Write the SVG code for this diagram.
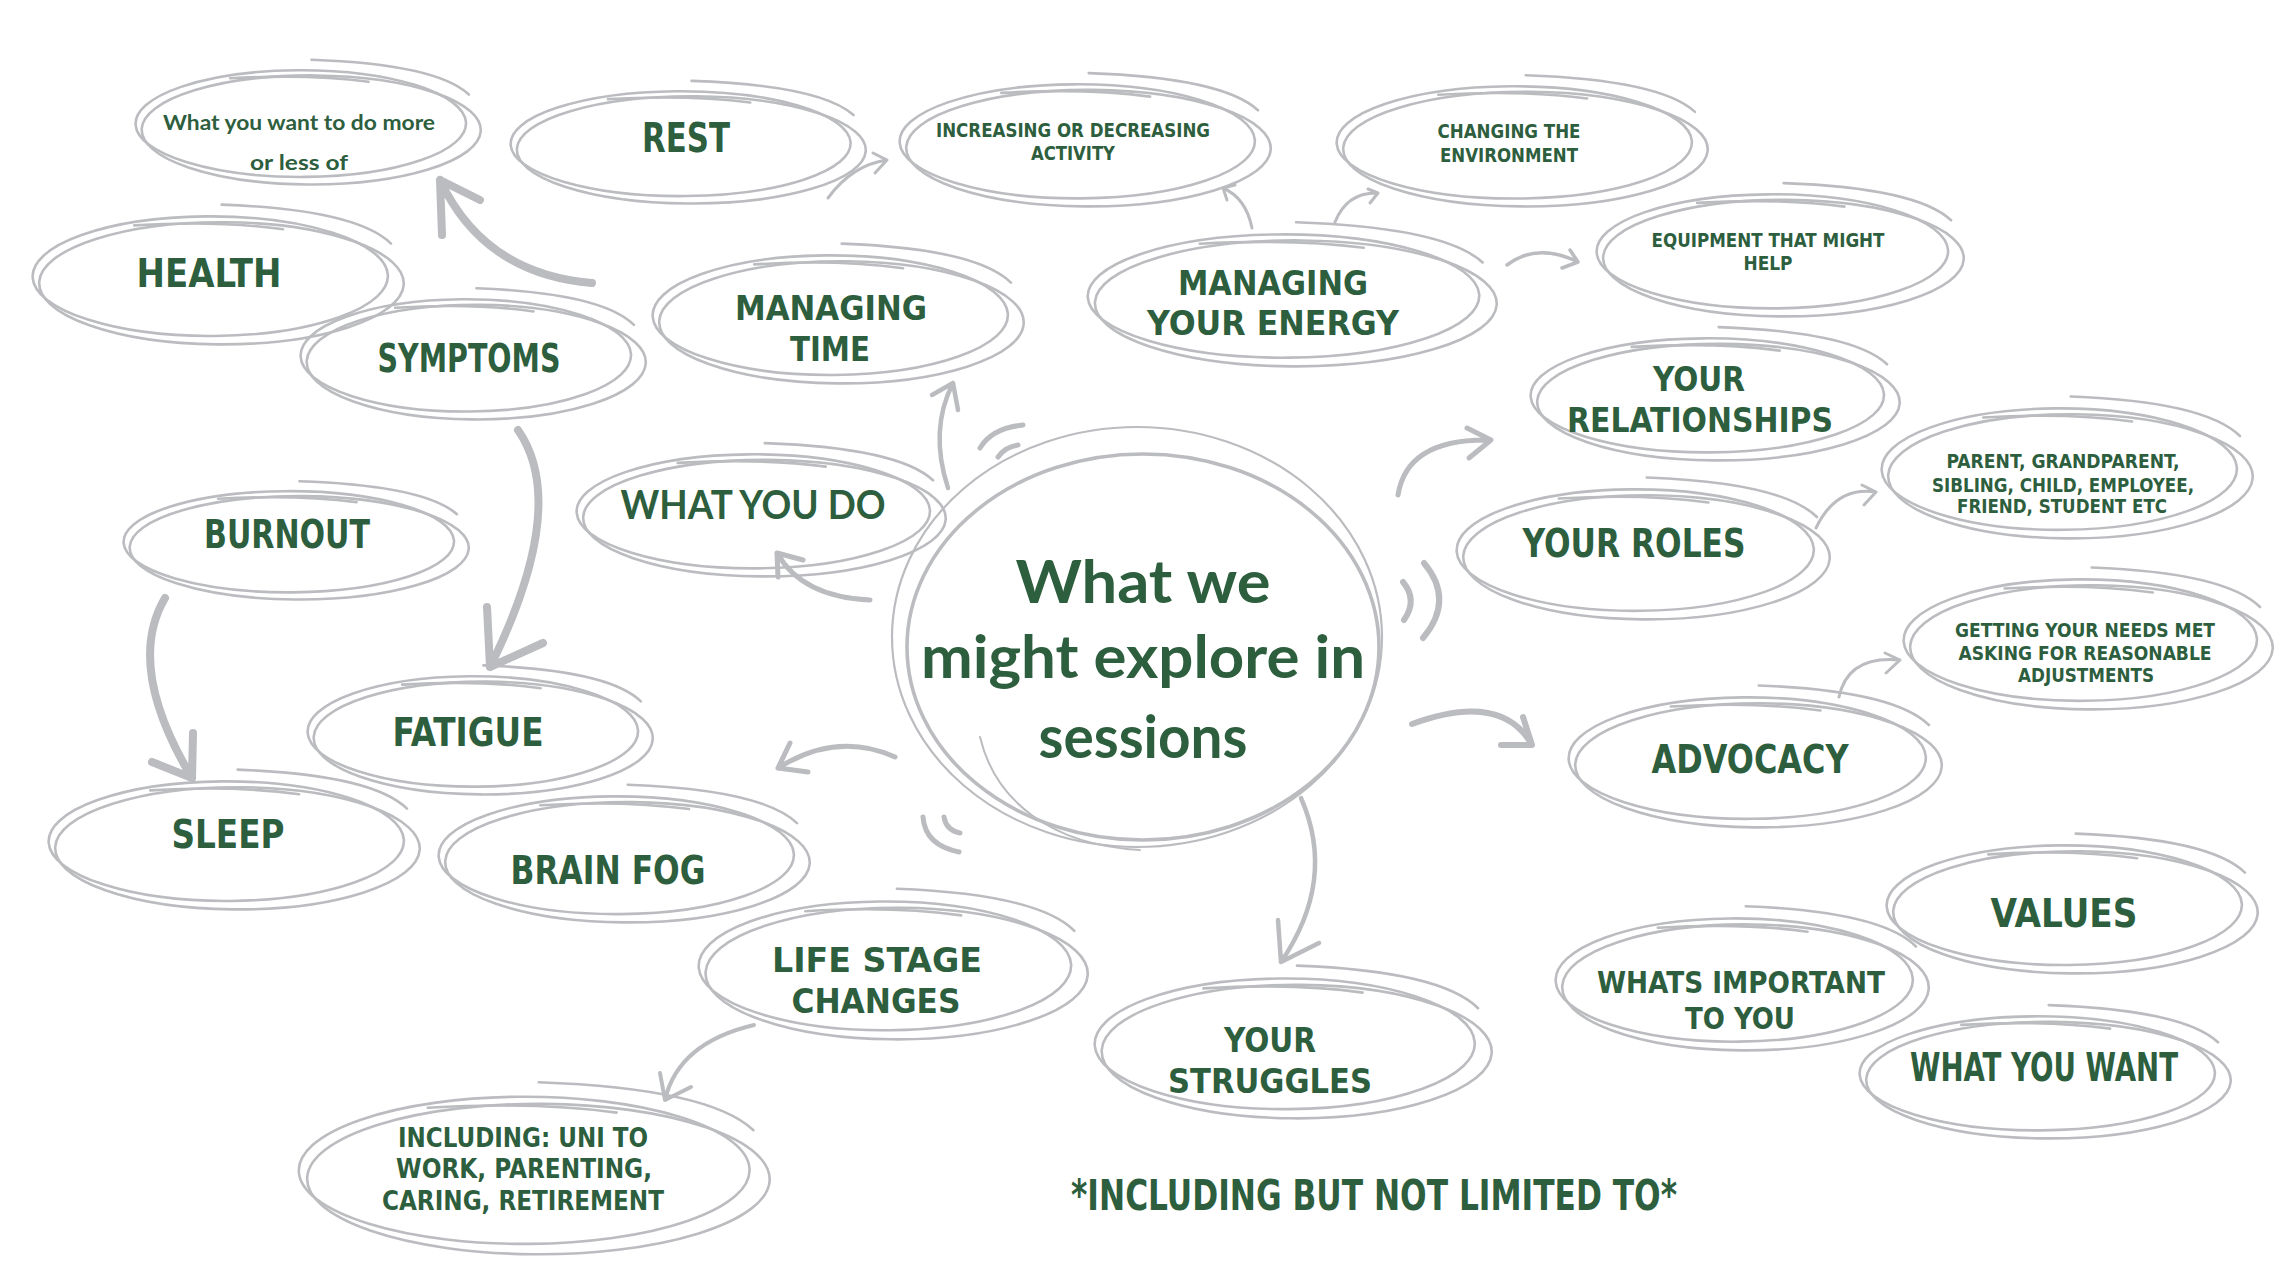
<svg xmlns="http://www.w3.org/2000/svg" xmlns:xlink="http://www.w3.org/1999/xlink" width="2274" height="1282" viewBox="0 0 2274 1282">
<style>
.lp ellipse, .lp path { fill:none; stroke:#bbbcbf; stroke-width:2.6; stroke-linecap:round; vector-effect:non-scaling-stroke; }
.t { font-family:"DejaVu Sans Condensed","DejaVu Sans","Liberation Sans",sans-serif; font-weight:bold; fill:#2d5e3d; text-anchor:middle; }
.r { font-family:Lato,"Noto Sans",sans-serif; font-weight:bold; fill:#2d5e3d; text-anchor:middle; }
.big { font-size:39px; }
.two { font-size:34px; }
.sm { font-size:20px; }
.c path { fill:none; stroke:#bbbcbf; stroke-linecap:round; stroke-linejoin:round; }
.ring { fill:none; stroke:#bbbcbf; stroke-linecap:round; }
</style>
<defs>
<g id="loop" class="lp">
<ellipse cx="-0.04" cy="-0.06" rx="0.955" ry="0.92" transform="rotate(-1.5)"/>
<ellipse cx="0.02" cy="0.05" rx="0.98" ry="0.94" transform="rotate(1.5)"/>
<path d="M0.02,-1.16 C0.4,-1.12 0.78,-0.98 0.93,-0.56"/>
<path d="M-0.45,-0.84 C-0.1,-0.9 0.15,-0.86 0.35,-0.78"/>
</g>
</defs>
<rect width="2274" height="1282" fill="#ffffff"/>

<g id="connectors" class="c">
<path stroke-width="8" d="M592,283 Q484,274 440,180 M480,200 L440,180 L442,235"/>
<path stroke-width="8" d="M518,430 Q570,505 490,667 M487,607 L490,667 L543,643"/>
<path stroke-width="8" d="M165,598 Q125,666 192,778 M193,733 L192,778 L152,762"/>
<path stroke-width="5" d="M870,600 Q802,597 777,553 M803,560 L777,553 L778,577"/>
<path stroke-width="4.5" d="M948,488 Q929,430 953,383 M932,395 L953,383 L958,410"/>
<path stroke-width="5" d="M895,757 Q837,731 778,768 M790,743 L778,768 L808,772"/>
<path stroke-width="3" d="M1252,228 Q1246,198 1223,188 M1235,185 L1223,188 L1227,200"/>
<path stroke-width="3" d="M828,198 Q852,165 887,160 M873,153 L887,160 L875,173"/>
<path stroke-width="3" d="M1335,222 Q1347,192 1378,193 M1368,189 L1378,193 L1370,203"/>
<path stroke-width="3.5" d="M1507,265 Q1537,242 1578,262 M1570,250 L1578,262 L1562,268"/>
<path stroke-width="5" d="M1398,495 Q1407,438 1491,440 M1467,428 L1491,440 L1469,458"/>
<path stroke-width="3" d="M1816,528 Q1836,486 1876,492 M1862,485 L1876,492 L1864,505"/>
<path stroke-width="3" d="M1839,697 Q1848,655 1900,660 M1885,653 L1900,660 L1886,673"/>
<path stroke-width="6" d="M1412,724 Q1502,691 1532,745 M1523,717 L1532,745 L1501,745"/>
<path stroke-width="4.5" d="M1301,798 Q1337,880 1281,962 M1278,920 L1281,962 L1319,943"/>
<path stroke-width="4" d="M754,1025 Q678,1043 665,1100 M660,1073 L665,1100 L691,1087"/>
</g>

<g id="n-center">
<ellipse class="ring" cx="1137" cy="637" rx="245" ry="210" stroke-width="2.2"/>
<ellipse class="ring" cx="1143" cy="647" rx="236" ry="193" stroke-width="3.6"/>
<path class="ring" stroke-width="2" d="M980,737 C995,800 1050,845 1140,850"/>
<path class="ring" stroke-width="5" d="M980,448 Q992,428 1023,425 M998,457 Q1005,447 1018,445"/>
<path class="ring" stroke-width="6" d="M1403,582 Q1418,600 1404,620 M1424,563 Q1455,600 1423,638"/>
<path class="ring" stroke-width="5" d="M923,817 Q925,845 959,852 M944,817 Q946,830 960,833"/>
<text class="r" font-size="60" font-weight="900" x="1143" y="603" textLength="255" lengthAdjust="spacingAndGlyphs">What we</text>
<text class="r" font-size="60" font-weight="900" x="1143" y="678" textLength="444" lengthAdjust="spacingAndGlyphs">might explore in</text>
<text class="r" font-size="60" font-weight="900" x="1143" y="758" textLength="209" lengthAdjust="spacingAndGlyphs">sessions</text>
</g>

<g id="n-want">
<use href="#loop" transform="translate(308,127) scale(173,58)"/>
<text class="r" font-size="21" font-weight="900" x="299" y="130" textLength="272" lengthAdjust="spacingAndGlyphs">What you want to do more</text>
<text class="r" font-size="21" font-weight="900" x="299" y="170" textLength="98" lengthAdjust="spacingAndGlyphs">or less of</text>
</g>

<g id="n-rest">
<use href="#loop" transform="translate(688,147) scale(178,57)"/>
<text class="t" font-size="41" x="686" y="152" textLength="88" lengthAdjust="spacingAndGlyphs">REST</text>
</g>

<g id="n-activity">
<use href="#loop" transform="translate(1085,145) scale(186,62)"/>
<text class="t sm" x="1073" y="137" textLength="274" lengthAdjust="spacingAndGlyphs">INCREASING OR DECREASING</text>
<text class="t sm" x="1073" y="160" textLength="84" lengthAdjust="spacingAndGlyphs">ACTIVITY</text>
</g>

<g id="n-environment">
<use href="#loop" transform="translate(1522,146) scale(186,61)"/>
<text class="t sm" x="1509" y="138" textLength="143" lengthAdjust="spacingAndGlyphs">CHANGING THE</text>
<text class="t sm" x="1509" y="162" textLength="138" lengthAdjust="spacingAndGlyphs">ENVIRONMENT</text>
</g>

<g id="n-equipment">
<use href="#loop" transform="translate(1780,255) scale(184,62)"/>
<text class="t sm" x="1768" y="247" textLength="233" lengthAdjust="spacingAndGlyphs">EQUIPMENT THAT MIGHT</text>
<text class="t sm" x="1768" y="270" textLength="49" lengthAdjust="spacingAndGlyphs">HELP</text>
</g>

<g id="n-health">
<use href="#loop" transform="translate(218,280) scale(186,65)"/>
<text class="t big" x="209" y="287" textLength="145" lengthAdjust="spacingAndGlyphs">HEALTH</text>
</g>

<g id="n-symptoms">
<use href="#loop" transform="translate(473,359) scale(173,61)"/>
<text class="t big" x="469" y="372" textLength="183" lengthAdjust="spacingAndGlyphs">SYMPTOMS</text>
</g>

<g id="n-time">
<use href="#loop" transform="translate(838,319) scale(186,65)"/>
<text class="t two" x="831" y="320" textLength="192" lengthAdjust="spacingAndGlyphs">MANAGING</text>
<text class="t two" x="830" y="361" textLength="80" lengthAdjust="spacingAndGlyphs">TIME</text>
</g>

<g id="n-energy">
<use href="#loop" transform="translate(1292,300) scale(205,67)"/>
<text class="t two" x="1273" y="295" textLength="190" lengthAdjust="spacingAndGlyphs">MANAGING</text>
<text class="t two" x="1273" y="335" textLength="252" lengthAdjust="spacingAndGlyphs">YOUR ENERGY</text>
</g>

<g id="n-relationships">
<use href="#loop" transform="translate(1715,399) scale(185,62)"/>
<text class="t two" x="1699" y="391" textLength="92" lengthAdjust="spacingAndGlyphs">YOUR</text>
<text class="t two" x="1700" y="432" textLength="266" lengthAdjust="spacingAndGlyphs">RELATIONSHIPS</text>
</g>

<g id="n-parent">
<use href="#loop" transform="translate(2067,473) scale(186,66)"/>
<text class="t sm" x="2063" y="468" textLength="233" lengthAdjust="spacingAndGlyphs">PARENT, GRANDPARENT,</text>
<text class="t sm" x="2063" y="492" textLength="262" lengthAdjust="spacingAndGlyphs">SIBLING, CHILD, EMPLOYEE,</text>
<text class="t sm" x="2062" y="513" textLength="210" lengthAdjust="spacingAndGlyphs">FRIEND, STUDENT ETC</text>
</g>

<g id="n-whatyoudo">
<use href="#loop" transform="translate(761,515) scale(185,62)"/>
<text class="r" font-size="41" font-weight="900" x="753" y="519" textLength="265" lengthAdjust="spacingAndGlyphs">WHAT YOU DO</text>
</g>

<g id="n-roles">
<use href="#loop" transform="translate(1643,554) scale(187,66)"/>
<text class="t big" x="1634" y="557" textLength="223" lengthAdjust="spacingAndGlyphs">YOUR ROLES</text>
</g>

<g id="n-needs">
<use href="#loop" transform="translate(2088,644) scale(185,66)"/>
<text class="t sm" x="2085" y="637" textLength="260" lengthAdjust="spacingAndGlyphs">GETTING YOUR NEEDS MET</text>
<text class="t sm" x="2085" y="660" textLength="253" lengthAdjust="spacingAndGlyphs">ASKING FOR REASONABLE</text>
<text class="t sm" x="2086" y="682" textLength="136" lengthAdjust="spacingAndGlyphs">ADJUSTMENTS</text>
</g>

<g id="n-burnout">
<use href="#loop" transform="translate(296,545) scale(173,55)"/>
<text class="t big" x="287" y="548" textLength="166" lengthAdjust="spacingAndGlyphs">BURNOUT</text>
</g>

<g id="n-fatigue">
<use href="#loop" transform="translate(480,735) scale(173,60)"/>
<text class="t big" x="468" y="746" textLength="151" lengthAdjust="spacingAndGlyphs">FATIGUE</text>
</g>

<g id="n-advocacy">
<use href="#loop" transform="translate(1755,762) scale(187,66)"/>
<text class="t big" x="1750" y="773" textLength="197" lengthAdjust="spacingAndGlyphs">ADVOCACY</text>
</g>

<g id="n-sleep">
<use href="#loop" transform="translate(234,845) scale(186,65)"/>
<text class="t big" x="228" y="848" textLength="113" lengthAdjust="spacingAndGlyphs">SLEEP</text>
</g>

<g id="n-brainfog">
<use href="#loop" transform="translate(624,859) scale(186,64)"/>
<text class="t big" x="608" y="884" textLength="195" lengthAdjust="spacingAndGlyphs">BRAIN FOG</text>
</g>

<g id="n-lifestage">
<use href="#loop" transform="translate(893,970) scale(195,70)"/>
<text class="t two" x="877" y="972" textLength="210" lengthAdjust="spacingAndGlyphs">LIFE STAGE</text>
<text class="t two" x="876" y="1013" textLength="169" lengthAdjust="spacingAndGlyphs">CHANGES</text>
</g>

<g id="n-struggles">
<use href="#loop" transform="translate(1293,1048) scale(199,71)"/>
<text class="t two" x="1270" y="1052" textLength="92" lengthAdjust="spacingAndGlyphs">YOUR</text>
<text class="t two" x="1270" y="1093" textLength="204" lengthAdjust="spacingAndGlyphs">STRUGGLES</text>
</g>

<g id="n-including">
<use href="#loop" transform="translate(534,1175) scale(236,80)"/>
<text class="t" font-size="27" x="523" y="1147" textLength="250" lengthAdjust="spacingAndGlyphs">INCLUDING: UNI TO</text>
<text class="t" font-size="27" x="524" y="1178" textLength="256" lengthAdjust="spacingAndGlyphs">WORK, PARENTING,</text>
<text class="t" font-size="27" x="523" y="1210" textLength="282" lengthAdjust="spacingAndGlyphs">CARING, RETIREMENT</text>
</g>

<g id="n-values">
<use href="#loop" transform="translate(2072,909) scale(186,65)"/>
<text class="t big" x="2064" y="927" textLength="147" lengthAdjust="spacingAndGlyphs">VALUES</text>
</g>

<g id="n-important">
<use href="#loop" transform="translate(1742,984) scale(187,67)"/>
<text class="t" font-size="30" x="1741" y="993" textLength="288" lengthAdjust="spacingAndGlyphs">WHATS IMPORTANT</text>
<text class="t" font-size="30" x="1740" y="1029" textLength="110" lengthAdjust="spacingAndGlyphs">TO YOU</text>
</g>

<g id="n-whatyouwant">
<use href="#loop" transform="translate(2045,1077) scale(186,62)"/>
<text class="t big" x="2044" y="1081" textLength="268" lengthAdjust="spacingAndGlyphs">WHAT YOU WANT</text>
</g>

<g id="note">
<text class="t" font-size="42" x="1374" y="1210" textLength="606" lengthAdjust="spacingAndGlyphs">*INCLUDING BUT NOT LIMITED TO*</text>
</g>
</svg>
